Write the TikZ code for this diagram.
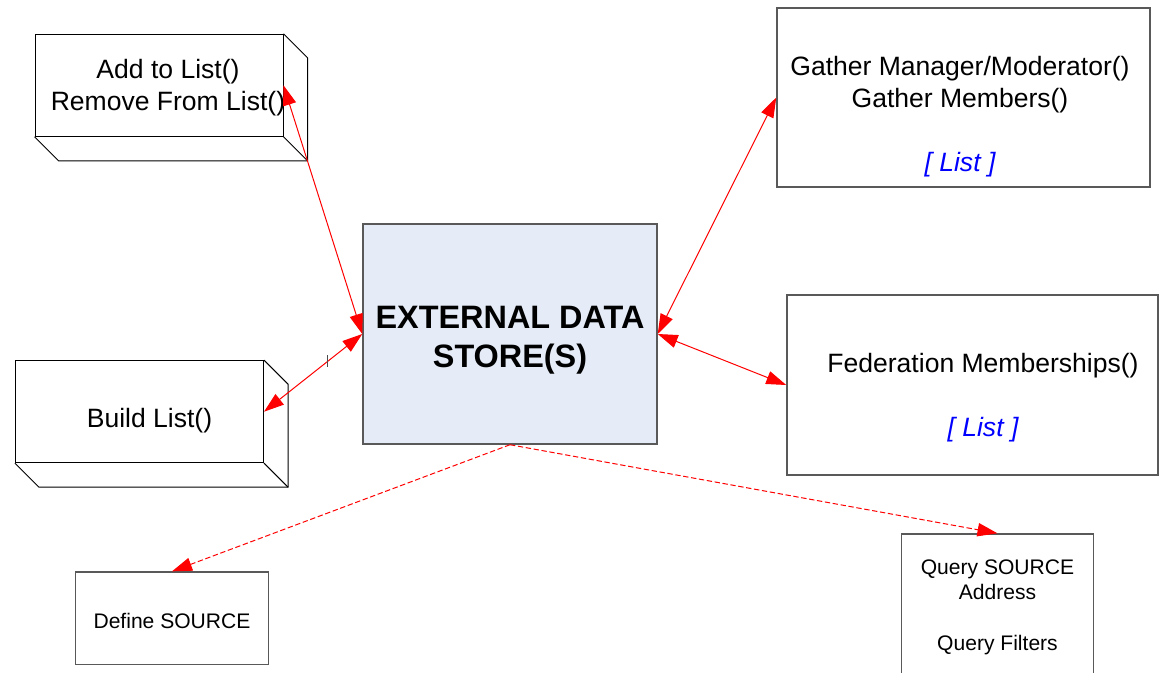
\documentclass[tikz,border=0pt]{standalone}
\usepackage{fontspec}
\setmainfont{Liberation Sans}
\usetikzlibrary{arrows.meta}
\tikzset{
  box/.style={draw=black!65,line width=1.1pt,inner sep=0pt},
  cube/.style={draw=black,line width=0.75pt,inner sep=0pt,
    minimum width=186pt,minimum height=76.5pt},
  bigtext/.style={align=center,font=\fontsize{19.9pt}{24pt}\selectfont},
  smalltext/.style={align=center,font=\fontsize{15.8pt}{19.2pt}\selectfont},
  link/.style={red,line width=0.75pt,
    {Triangle[length=15pt,width=10pt]}-{Triangle[length=15pt,width=10pt]}},
  query/.style={red,line width=0.75pt,dash pattern=on 4pt off 2pt,
    -{Triangle[length=15pt,width=10pt]}}
}
\newcommand{\listtag}{{\color{blue}\itshape [ List ]}}
\begin{document}
\begin{tikzpicture}[x=0.75pt,y=-0.75pt]
  \useasboundingbox (0,0) rectangle (1165,672);
  % central store
  \node[box,fill={rgb,255:red,230;green,236;blue,247},
    minimum width=220.5pt,minimum height=165pt,align=center,
    font=\bfseries\fontsize{24.3pt}{29.5pt}\selectfont]
    (store) at (510,334) {\rule{0pt}{26pt}EXTERNAL DATA\\STORE(S)};
  % left hand cubes
  \node[cube] (add) at (159,85.25) {};
  \draw[line width=0.75pt] (add.north east) -- ++(24,24)
     |- ([shift={(24,24)}]add.south west) -- (add.south west);
  \draw[line width=0.75pt] (add.south east) -- ++(24,24);
  \node[bigtext] (addtext) at (168,87.5) {Add to List()\\Remove From List()};
  \node[cube] (build) at (139.5,411.7) {};
  \draw[line width=0.75pt] (build.north east) -- ++(24,24)
     |- ([shift={(24,24)}]build.south west) -- (build.south west);
  \draw[line width=0.75pt] (build.south east) -- ++(24,24);
  \node[bigtext] (buildtext) at (149.5,421) {Build List()};
  % right hand boxes
  \node[box,minimum width=279.75pt,minimum height=134.25pt]
    (gather) at (963.5,97.5) {};
  \node[bigtext] (gathertext) at (960,117)
    {Gather Manager/Moderator()\\Gather Members()\\ \\ \listtag};
  \node[box,minimum width=278.25pt,minimum height=135pt]
    (fed) at (972.5,385) {};
  \node[bigtext] (fedtext) at (983,398)
    {Federation Memberships()\\ \\ \listtag};
  % bottom boxes
  \node[box,smalltext,minimum width=144.5pt,minimum height=69.2pt]
    (define) at (172,618.2) {\rule{0pt}{15pt}Define SOURCE};
  \node[box,smalltext,anchor=north,minimum width=143.7pt,minimum height=108pt]
    (source) at (997.5,533.3) {\rule{0pt}{13pt}Query SOURCE\\Address\\ \\Query Filters};
  % connectors
  \draw[link] (add.east) -- (store.west);
  \draw[link] (build.east) -- (store.west);
  \draw[link] (gather.west) -- (store.east);
  \draw[link] (fed.west) -- (store.east);
  \draw[query] (store.south) -- (define.north);
  \draw[query] (store.south) -- (source.north);
  \draw[black!70,line width=0.5pt] (327,355) -- (327,367);
\end{tikzpicture}
\end{document}
